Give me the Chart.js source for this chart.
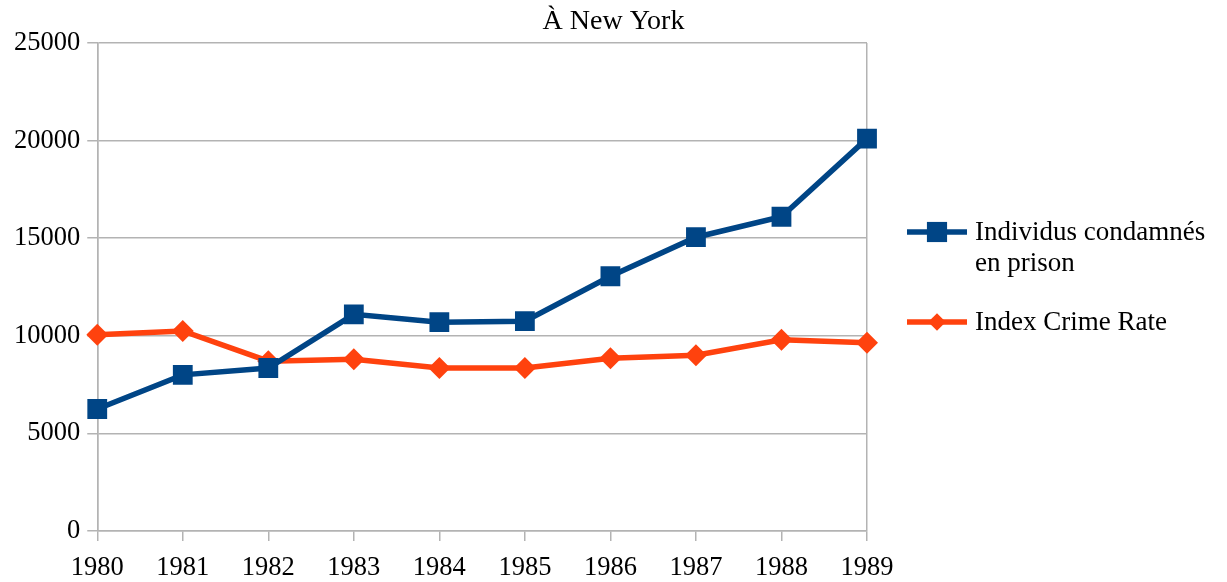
<!DOCTYPE html>
<html>
<head>
<meta charset="utf-8">
<script src="https://cdn.jsdelivr.net/npm/chart.js@4/dist/chart.umd.min.js"></script>
<style>
  html, body { margin: 0; padding: 0; background: #fff; }
  #wrap { width: 1227px; height: 582px; }
</style>
</head>
<body>
<div id="wrap"><canvas id="chart1" width="1227" height="582"></canvas></div>
<script>
var years = ['1980', '1981', '1982', '1983', '1984', '1985', '1986', '1987', '1988', '1989'];
var prisoners = [6250, 8000, 8350, 11100, 10700, 10750, 13050, 15050, 16100, 20100];
var crimeRate = [10050, 10250, 8700, 8800, 8350, 8350, 8850, 9000, 9800, 9650];
var seriesNames = [['Individus condamnés', 'en prison'], ['Index Crime Rate']];
var chartTitle = 'À New York';

var serif = '"Liberation Serif", "DejaVu Serif", serif';
var gridGrey = '#b3b3b3';

// title centred on the whole page + legend on the right (line + marker + wrapped label)
const sideLegend = {
  id: 'sideLegend',
  afterDraw(chart) {
    const ctx = chart.ctx;
    const rows = [232, 322];
    ctx.save();
    ctx.fillStyle = '#000';
    ctx.font = '28px ' + serif;
    ctx.textAlign = 'center';
    ctx.textBaseline = 'middle';
    ctx.fillText(chartTitle, chart.width / 2, 22);

    chart.data.datasets.forEach(function(ds, i) {
      var y = rows[i];
      ctx.strokeStyle = ds.borderColor;
      ctx.lineWidth = ds.borderWidth;
      ctx.beginPath();
      ctx.moveTo(907, y);
      ctx.lineTo(967, y);
      ctx.stroke();
      ctx.fillStyle = ds.borderColor;
      var r = ds.pointRadius;
      ctx.beginPath();
      if (ds.pointStyle === 'rect') {
        ctx.rect(937 - r * 0.72, y - r * 0.72, r * 1.44, r * 1.44);
      } else {
        ctx.moveTo(937, y - r * 0.8);
        ctx.lineTo(937 + r * 0.8, y);
        ctx.lineTo(937, y + r * 0.8);
        ctx.lineTo(937 - r * 0.8, y);
        ctx.closePath();
      }
      ctx.fill();
      ctx.fillStyle = '#000';
      ctx.font = '27px ' + serif;
      ctx.textBaseline = 'middle';
      ctx.textAlign = 'left';
      seriesNames[i].forEach(function(line, j) {
        ctx.fillText(line, 975, y + 1 + j * 31);
      });
    });
    ctx.restore();
  }
};

const chart1Context = document.getElementById('chart1').getContext('2d');
new Chart(chart1Context, {
  type: 'line',
  data: {
    labels: years,
    datasets: [{
      label: seriesNames[0].join(' '),
      data: prisoners,
      borderColor: '#004586',
      backgroundColor: '#004586',
      borderWidth: 5.5,
      pointStyle: 'rect',
      pointRadius: 14,
      pointBorderWidth: 0,
      fill: false,
      tension: 0
    }, {
      label: seriesNames[1].join(' '),
      data: crimeRate,
      borderColor: '#ff420e',
      backgroundColor: '#ff420e',
      borderWidth: 5.5,
      pointStyle: 'rectRot',
      pointRadius: 11,
      pointBorderWidth: 0,
      fill: false,
      tension: 0
    }]
  },
  options: {
    responsive: false,
    animation: false,
    layout: {
      padding: { left: 7, right: 360, top: 43, bottom: 0 }
    },
    plugins: {
      legend: { display: false },
      tooltip: { enabled: false },
      title: { display: false }
    },
    scales: {
      x: {
        offset: false,
        afterFit: function(scale) { scale.height = 51; },
        grid: {
          color: function(c) {
            return (c.index === 0 || c.index === years.length - 1) ? gridGrey : 'rgba(0,0,0,0)';
          },
          tickColor: gridGrey,
          tickLength: 10,
          lineWidth: 1.5
        },
        border: { color: gridGrey, width: 1.5 },
        ticks: {
          color: '#000',
          font: { family: serif, size: 26.5 },
          padding: 11,
          maxRotation: 0,
          autoSkip: false
        }
      },
      y: {
        min: 0,
        max: 25000,
        grid: {
          color: gridGrey,
          tickColor: gridGrey,
          tickLength: 10,
          lineWidth: 1.5
        },
        border: { color: gridGrey, width: 1.5 },
        ticks: {
          stepSize: 5000,
          color: '#000',
          font: { family: serif, size: 26.5 },
          padding: 7,
          callback: function(v) { return String(v); }
        }
      }
    }
  },
  plugins: [sideLegend]
});
</script>
</body>
</html>
